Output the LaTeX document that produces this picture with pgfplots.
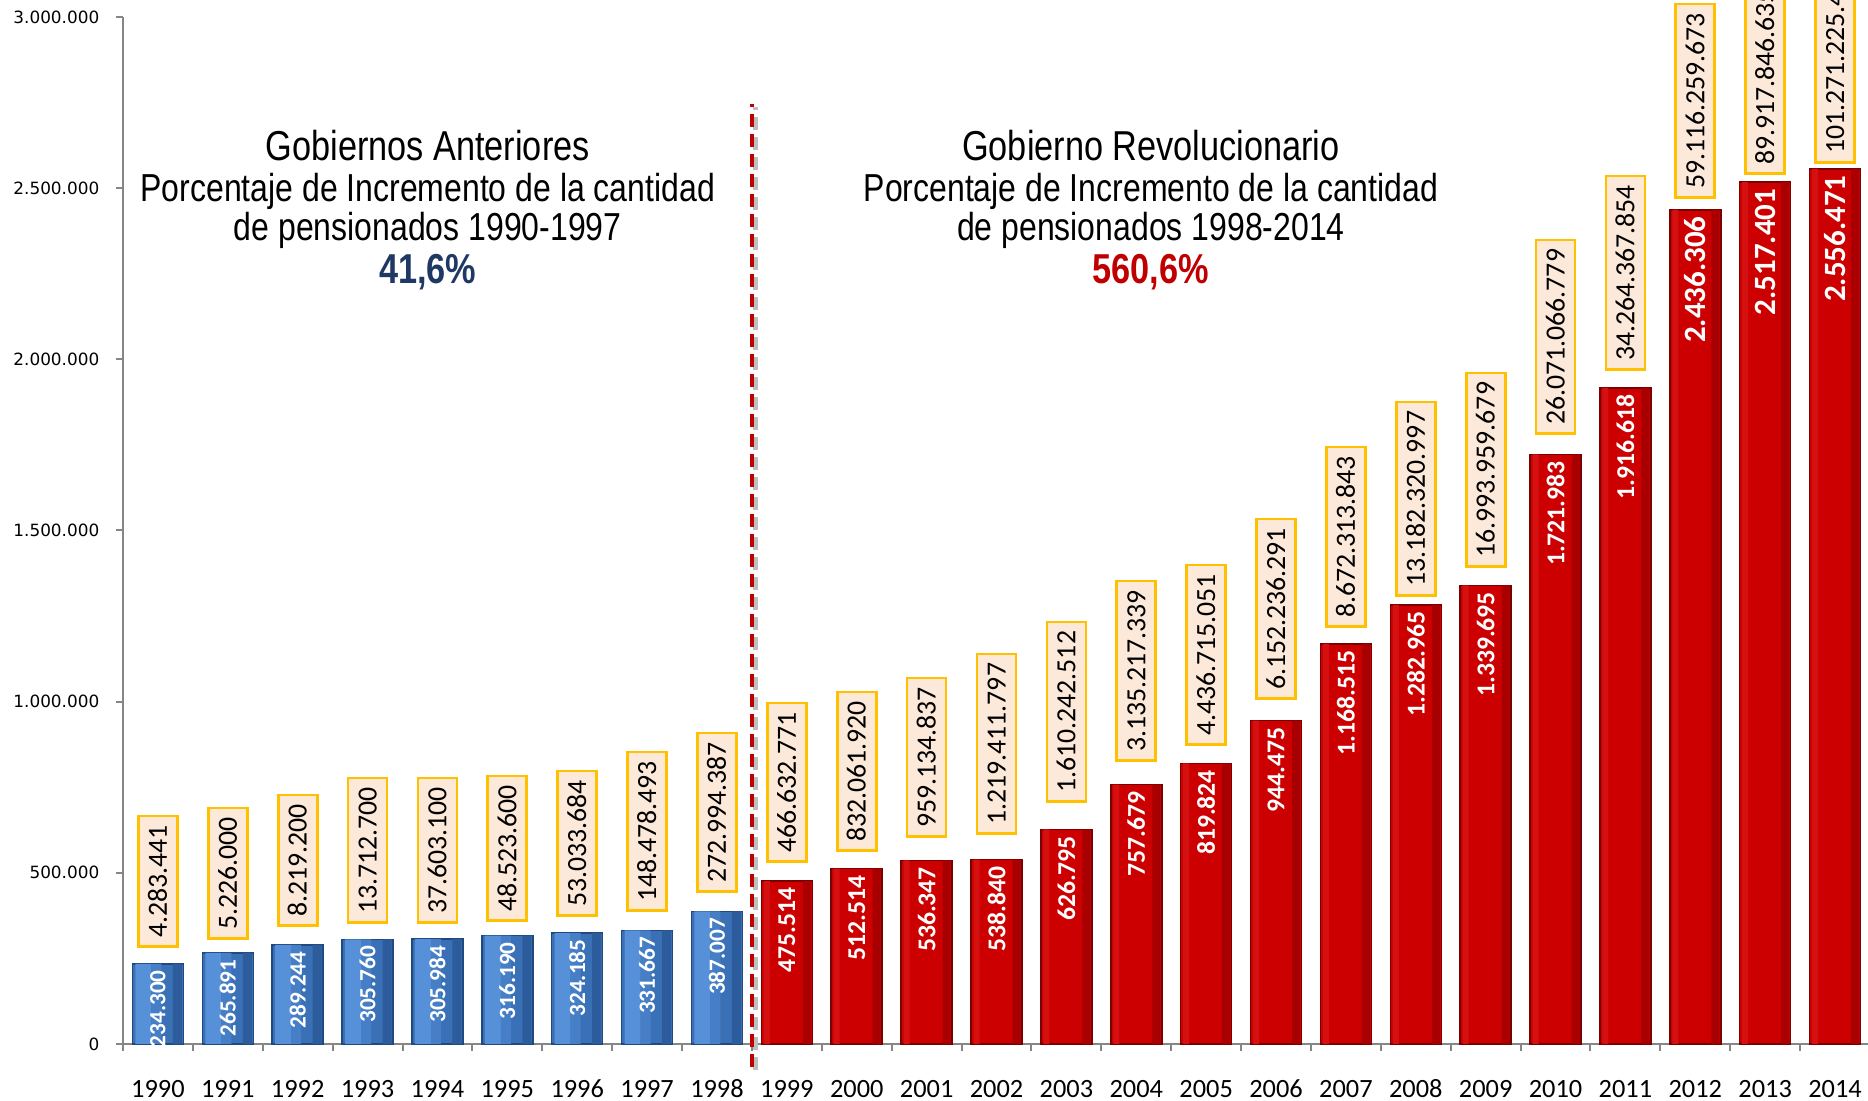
\documentclass[border=0pt]{standalone}
\usepackage{fontspec}
\setmainfont{Carlito}
\newfontfamily\narrowfont[FakeStretch=0.82]{Liberation Sans}
\newfontfamily\tickfont{DejaVu Sans}
\usepackage{pgfplots}
\usepackage{pgfplotstable}
\pgfplotsset{compat=1.18}

\definecolor{axisgray}{HTML}{868686}
\definecolor{boxorange}{HTML}{FFC000}
\definecolor{boxfill}{HTML}{FDE9D9}
\definecolor{navytxt}{HTML}{1F3864}
\definecolor{redtxt}{HTML}{C00000}
\definecolor{blueL}{HTML}{5590D8}
\definecolor{blueL2}{HTML}{477FC6}
\definecolor{blueM}{HTML}{3A70B6}
\definecolor{blueR}{HTML}{2C5C9C}
\definecolor{blueD}{HTML}{22497F}
\definecolor{redL}{HTML}{D41010}
\definecolor{redM}{HTML}{CC0000}
\definecolor{redR}{HTML}{A80000}
\definecolor{redD}{HTML}{780000}

% cantidad de pensionados
\pgfplotstableread{
x y lab
0 234300 234.300
1 265891 265.891
2 289244 289.244
3 305760 305.760
4 305984 305.984
5 316190 316.190
6 324185 324.185
7 331667 331.667
8 387007 387.007
}\antes
\pgfplotstableread{
x y lab
9 475514 475.514
10 512514 512.514
11 536347 536.347
12 538840 538.840
13 626795 626.795
14 757679 757.679
15 819824 819.824
16 944475 944.475
17 1168515 1.168.515
18 1282965 1.282.965
19 1339695 1.339.695
20 1721983 1.721.983
21 1916618 1.916.618
}\revol
\pgfplotstableread{
x y lab
22 2436306 2.436.306
23 2517401 2.517.401
24 2556471 2.556.471
}\revolb
% montos (etiquetas en recuadro), by = base del recuadro
\pgfplotstableread{
x by lab
0 280400 4.283.441
1 303700 5.226.000
2 341700 8.219.200
3 350500 13.712.700
4 350500 37.603.100
5 356300 48.523.600
6 370900 53.033.684
7 385500 148.478.493
8 441000 272.994.387
9 528600 466.632.771
10 560700 832.061.920
11 601600 959.134.837
12 610400 1.219.411.797
13 703900 1.610.242.512
14 823600 3.135.217.339
15 870300 4.436.715.051
16 1004700 6.152.236.291
17 1215000 8.672.313.843
18 1305500 13.182.320.997
19 1390200 16.993.959.679
20 1778600 26.071.066.779
21 1965500 34.264.367.854
22 2467900 59.116.259.673
23 2538000 89.917.846.635
24 2570100 101.271.225.400
}\montos

\pgfplotsset{
  strip/.style={ybar, draw=none, fill=#1},
  barlab/.style={draw=none, mark=none, nodes near coords, point meta=explicit symbolic,
    every node near coord/.style={rotate=90, anchor=east, inner xsep=0.6mm, inner ysep=0pt,
      text=white, font=\bfseries\fontsize{#1}{9pt}\selectfont}},
}
\tikzset{
  titulo/.style={anchor=base, font=\narrowfont\fontsize{11.1pt}{12pt}\selectfont},
  titulo1/.style={anchor=base, font=\narrowfont\fontsize{11.9pt}{12pt}\selectfont},
  pct/.style={anchor=base, text=#1, font=\narrowfont\bfseries\fontsize{11.9pt}{12pt}\selectfont},
}

\begin{document}
\begin{tikzpicture}
\begin{axis}[
  scale only axis, width=174.7mm, height=102.7mm,
  xmin=-0.5, xmax=24.5, ymin=0, ymax=3000000,
  axis x line=bottom, axis y line=left,
  axis line style={-, draw=axisgray, line width=0.2mm},
  xtick={0,1,...,24},
  xticklabels={1990,1991,1992,1993,1994,1995,1996,1997,1998,1999,2000,2001,2002,2003,2004,2005,2006,2007,2008,2009,2010,2011,2012,2013,2014},
  major x tick style={draw=none},
  minor xtick={-0.5,0.5,...,24.5},
  ytick={0,500000,1000000,1500000,2000000,2500000,3000000},
  yticklabels={0,500.000,1.000.000,1.500.000,2.000.000,2.500.000,3.000.000},
  scaled y ticks=false,
  tick align=outside, major tick length=0.7mm, minor tick length=0.7mm,
  tick style={draw=axisgray, line width=0.2mm},
  xticklabel style={font=\fontsize{7.5pt}{8pt}\selectfont, anchor=base, yshift=-4.7mm},
  yticklabel style={font=\tickfont\fontsize{4.8pt}{5pt}\selectfont, anchor=east, inner sep=0pt, xshift=-1.6mm},
  clip=false,
]
% linea divisoria (sombra y linea)
\addplot[draw=black!25, line width=0.45mm, dash pattern=on 1.3mm off 0.7mm, xshift=0.35mm, yshift=-0.3mm]
  coordinates {(8.5,-67000) (8.5,2745000)};
\addplot[draw=redtxt, line width=0.45mm, dash pattern=on 1.3mm off 0.7mm]
  coordinates {(8.5,-67000) (8.5,2745000)};

% barras azules: base y franjas
\addplot[ybar, bar width=5.1mm, draw=blueD, line width=0.15mm, fill=blueM] table[x=x, y=y] {\antes};
\addplot[strip=blueL, bar width=1.6mm, bar shift=-1.45mm] table[x=x, y=y] {\antes};
\addplot[strip=blueL2, bar width=1.0mm, bar shift=-0.15mm] table[x=x, y=y] {\antes};
\addplot[strip=blueR, bar width=0.9mm, bar shift=1.95mm] table[x=x, y=y] {\antes};
% barras rojas
\addplot[ybar, bar width=5.1mm, draw=redD, line width=0.15mm, fill=redM] table[x=x, y=y] {\revol};
\addplot[strip=redR, bar width=0.8mm, bar shift=2.0mm] table[x=x, y=y] {\revol};
\addplot[strip=redL, bar width=0.6mm, bar shift=-2.0mm] table[x=x, y=y] {\revol};
\addplot[ybar, bar width=5.1mm, draw=redD, line width=0.15mm, fill=redM] table[x=x, y=y] {\revolb};
\addplot[strip=redR, bar width=0.8mm, bar shift=2.0mm] table[x=x, y=y] {\revolb};
\addplot[strip=redL, bar width=0.6mm, bar shift=-2.0mm] table[x=x, y=y] {\revolb};

% etiquetas dentro de las barras
\addplot[barlab=6.6pt] table[x=x, y=y, meta=lab] {\antes};
\addplot[barlab=7.3pt] table[x=x, y=y, meta=lab] {\revol};
\addplot[barlab=8.8pt] table[x=x, y=y, meta=lab] {\revolb};

% recuadros con montos
\addplot[draw=none, mark=none,
  nodes near coords, point meta=explicit symbolic,
  every node near coord/.style={rotate=90, anchor=west, draw=boxorange, fill=boxfill,
    line width=0.27mm, inner xsep=0.9mm, inner ysep=1.05mm, text height=1.8mm, text depth=0pt,
    text=black, font=\fontsize{7.9pt}{8pt}\selectfont}]
  table[x=x, y=by, meta=lab] {\montos};

% textos
\node[titulo1] at (axis cs:3.86,2580000) {Gobiernos Anteriores};
\node[titulo] at (axis cs:3.86,2460000) {Porcentaje de Incremento de la cantidad};
\node[titulo] at (axis cs:3.86,2346000) {de pensionados 1990-1997};
\node[pct=navytxt] at (axis cs:3.86,2221000) {41,6\%};
\node[titulo1] at (axis cs:14.21,2580000) {Gobierno Revolucionario};
\node[titulo] at (axis cs:14.21,2460000) {Porcentaje de Incremento de la cantidad};
\node[titulo] at (axis cs:14.21,2346000) {de pensionados 1998-2014};
\node[pct=redtxt] at (axis cs:14.21,2221000) {560,6\%};

\coordinate (O) at (rel axis cs:0,0);
\end{axis}
\pgfresetboundingbox
\path[use as bounding box] (O) ++(-12.3mm,-5.7mm) rectangle ++(186.8mm,110.1mm);
\end{tikzpicture}
\end{document}
